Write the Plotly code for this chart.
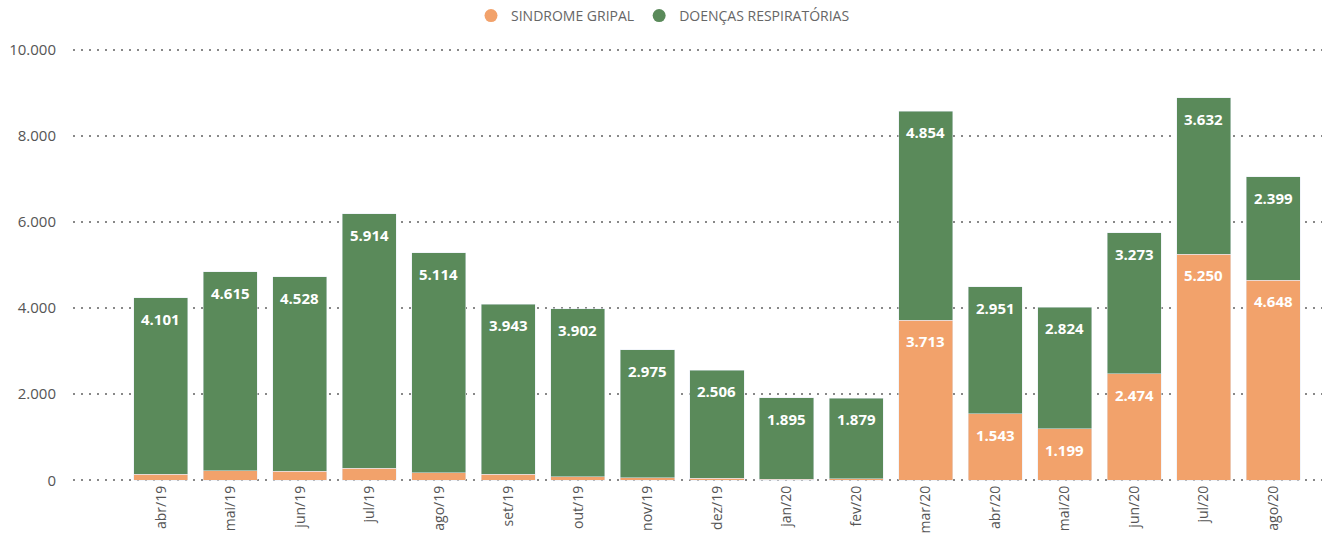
import plotly.graph_objects as go

months = ["abr/19", "mai/19", "jun/19", "jul/19", "ago/19", "set/19", "out/19", "nov/19",
          "dez/19", "jan/20", "fev/20", "mar/20", "abr/20", "mai/20", "jun/20", "jul/20", "ago/20"]
sindrome_gripal = [135, 225, 205, 275, 175, 140, 85, 55, 50, 20, 30,
                   3713, 1543, 1199, 2474, 5250, 4648]
doencas_resp = [4101, 4615, 4528, 5914, 5114, 3943, 3902, 2975, 2506, 1895, 1879,
                4854, 2951, 2824, 3273, 3632, 2399]
y_ticks = [0, 2000, 4000, 6000, 8000, 10000]

ORANGE = "#F2A26B"
GREEN = "#5A8A5A"


def fmt(v):
    return f"{v:,}".replace(",", ".")


x = list(range(len(months)))

fig = go.Figure()
fig.add_trace(go.Bar(x=x, y=sindrome_gripal, name="SINDROME GRIPAL", marker_color=ORANGE,
                     showlegend=False))
fig.add_trace(go.Bar(x=x, y=doencas_resp, name="DOENÇAS RESPIRATÓRIAS", marker_color=GREEN,
                     showlegend=False))
# legend entries with circle markers
for nm, col in [("SINDROME GRIPAL", ORANGE), ("DOENÇAS RESPIRATÓRIAS", GREEN)]:
    fig.add_trace(go.Scatter(x=[None], y=[None], mode="markers", name=nm,
                             marker=dict(symbol="circle", size=13, color=col)))

# data labels placed just below the top of each segment
label_font = dict(family="Open Sans", size=15, color="white", weight="bold")
for i, (sg, dr) in enumerate(zip(sindrome_gripal, doencas_resp)):
    fig.add_annotation(x=i, y=sg + dr, text=fmt(dr), showarrow=False, yshift=-21,
                       yanchor="middle", font=label_font)
    if sg >= 1000:
        fig.add_annotation(x=i, y=sg, text=fmt(sg), showarrow=False, yshift=-21,
                           yanchor="middle", font=label_font)

fig.update_layout(
    width=1326, height=554,
    barmode="stack", bargap=0.223,
    plot_bgcolor="white", paper_bgcolor="white",
    separators=",.",
    margin=dict(l=73, r=4, t=48, b=72, autoexpand=False),
    showlegend=True,
    legend=dict(orientation="h", xref="container", x=0.5, xanchor="center",
                yref="container", y=1.0, yanchor="top", itemwidth=30,
                font=dict(family="Open Sans", size=14, color="#666"),
                traceorder="normal", tracegroupgap=0),
)
fig.update_xaxes(tickmode="array", tickvals=x, ticktext=months, tickangle=-90,
                 range=[-1.266, 16.705], showgrid=False, zeroline=False, showline=False,
                 ticks="", automargin=False,
                 tickfont=dict(family="Open Sans", size=14, color="#555"))
fig.update_yaxes(range=[-40, 10040], tickvals=y_ticks,
                 tickformat=",d", showgrid=True, gridcolor="#888", gridwidth=1.5,
                 griddash="2px,6px", zeroline=False, showline=False, ticks="",
                 ticklabelstandoff=16, automargin=False,
                 tickfont=dict(family="Open Sans", size=15, color="#555"))

fig.write_html("out.html", config={"displayModeBar": False},
               post_script="document.body.style.margin='0';")
